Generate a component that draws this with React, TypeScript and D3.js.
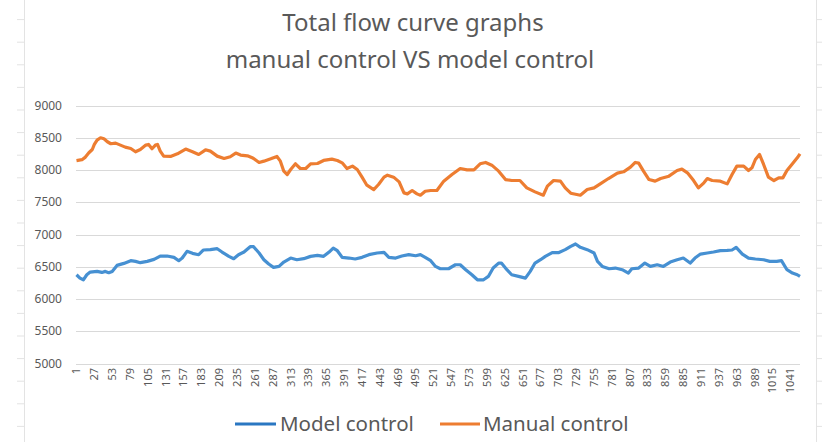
import * as d3 from "d3";
import React from "react";

// y ticks
const yTicks = [5000, 5500, 6000, 6500, 7000, 7500, 8000, 8500, 9000];

// x tick labels (every 26th category)
const xTicks = [
  1, 27, 53, 79, 105, 131, 157, 183, 209, 235, 261, 287, 313, 339, 365, 391, 417, 443, 469, 495,
  521, 547, 573, 599, 625, 651, 677, 703, 729, 755, 781, 807, 833, 859, 885, 911, 937, 963, 989,
  1015, 1041,
];

const totalPoints = 1055;

const manualAt = [
  1, 9, 14, 19, 24, 27, 31, 36, 41, 46, 51, 58, 65, 72, 80, 87, 94, 102, 106, 111, 116, 119, 123,
  128, 138, 148, 160, 170, 179, 189, 196, 206, 216, 225, 233, 240, 250, 257, 259, 267, 274, 284,
  293, 298, 303, 308, 313, 320, 327, 335, 342, 352, 361, 373, 381, 388, 395, 403, 410, 417, 424,
  434, 441, 449, 454, 463, 471, 478, 483, 490, 497, 502, 509, 517, 526, 536, 548, 560, 570, 580,
  589, 597, 606, 616, 626, 635, 647, 657, 669, 681, 687, 696, 706, 713, 721, 735, 745, 755, 764,
  776, 789, 798, 808, 815, 820, 827, 835, 844, 852, 864, 876, 883, 891, 900, 907, 915, 920, 927,
  939, 949, 956, 963, 973, 980, 985, 990, 996, 1002, 1009, 1017, 1024, 1030, 1036, 1044, 1051, 1055,
];
const manualFlow = [
  8145, 8160, 8200, 8267, 8318, 8396, 8464, 8500, 8484, 8438, 8407, 8417, 8386, 8355, 8334, 8282,
  8318, 8386, 8396, 8329, 8386, 8396, 8293, 8215, 8210, 8251, 8324, 8282, 8241, 8313, 8293, 8215,
  8179, 8205, 8262, 8231, 8220, 8189, 8179, 8117, 8137, 8174, 8210, 8137, 7982, 7930, 8008, 8096,
  8023, 8023, 8096, 8101, 8148, 8168, 8148, 8111, 8023, 8060, 8008, 7889, 7764, 7697, 7775, 7889,
  7920, 7889, 7816, 7645, 7630, 7682, 7630, 7609, 7671, 7682, 7682, 7827, 7930, 8023, 8003, 8003,
  8096, 8117, 8075, 7982, 7852, 7837, 7837, 7723, 7661, 7609, 7749, 7837, 7827, 7723, 7640, 7609,
  7697, 7723, 7785, 7868, 7951, 7972, 8044, 8117, 8106, 7982, 7852, 7827, 7868, 7904, 7992, 8013,
  7956, 7837, 7723, 7801, 7868, 7837, 7827, 7785, 7930, 8060, 8060, 7992, 8034, 8163, 8241, 8086,
  7889, 7837, 7878, 7878, 7992, 8096, 8189, 8251,
];

// Model control
const modelAt = [
  1, 6, 11, 16, 21, 31, 38, 43, 48, 53, 60, 70, 80, 87, 94, 104, 114, 123, 133, 143, 150, 155, 162,
  170, 179, 186, 196, 206, 213, 223, 230, 237, 245, 254, 259, 267, 274, 281, 288, 296, 303, 313,
  322, 332, 342, 352, 361, 369, 375, 381, 388, 398, 407, 417, 427, 439, 449, 456, 466, 475, 485,
  495, 502, 509, 517, 524, 531, 543, 553, 560, 568, 577, 585, 594, 601, 608, 616, 620, 628, 635,
  645, 655, 662, 669, 677, 684, 694, 703, 713, 721, 728, 735, 745, 755, 760, 767, 777, 786, 796,
  805, 810, 820, 829, 837, 847, 856, 866, 876, 885, 895, 902, 910, 920, 929, 939, 949, 956, 962,
  971, 980, 990, 1002, 1011, 1021, 1028, 1036, 1044, 1051, 1055,
];
const modelFlow = [
  6376, 6324, 6298, 6376, 6418, 6428, 6412, 6428, 6407, 6428, 6521, 6552, 6594, 6583, 6563, 6583,
  6614, 6666, 6666, 6646, 6594, 6635, 6739, 6708, 6687, 6760, 6765, 6780, 6728, 6661, 6625, 6687,
  6728, 6811, 6811, 6713, 6609, 6542, 6490, 6505, 6573, 6635, 6609, 6625, 6661, 6677, 6661, 6728,
  6790, 6749, 6646, 6635, 6620, 6646, 6687, 6713, 6723, 6646, 6635, 6666, 6687, 6671, 6687, 6646,
  6594, 6505, 6469, 6469, 6531, 6531, 6454, 6376, 6298, 6298, 6350, 6480, 6557, 6557, 6454, 6376,
  6350, 6324, 6428, 6557, 6609, 6661, 6718, 6718, 6765, 6816, 6853, 6801, 6765, 6713, 6583, 6505,
  6469, 6480, 6454, 6402, 6469, 6480, 6557, 6505, 6531, 6505, 6573, 6609, 6635, 6557, 6635, 6697,
  6713, 6728, 6749, 6754, 6760, 6801, 6697, 6635, 6620, 6609, 6583, 6583, 6594, 6454, 6402, 6376,
  6350,
];

const W = 827;
const H = 442;
const plot = { left: 76, right: 800, top: 105.5, bottom: 363.5 };

const textColor = "#595959";
const gridColor = "#D9D9D9";
const blue = "#4690D2";
const orange = "#ED7D31";
const font = "'Noto Sans', 'Open Sans', sans-serif";

export default function App() {
  const x = d3.scaleLinear().domain([1, totalPoints]).range([plot.left + 0.5, plot.right]);
  const y = d3.scaleLinear().domain([5000, 9000]).range([plot.bottom, plot.top]);

  const line = d3
    .line<[number, number]>()
    .x((d) => x(d[0]))
    .y((d) => y(d[1]));

  const manualPath = line(manualAt.map((c, i) => [c, manualFlow[i]]));
  const modelPath = line(modelAt.map((c, i) => [c, modelFlow[i]]));

  // sheet row lines peeking outside the chart
  const rowLines = d3.range(-3, 440, 22.6);

  return (
    <svg
      width={W}
      height={H}
      style={{ position: "absolute", left: 0, top: 0, background: "#fff" }}
      fontFamily={font}
    >
      {rowLines.map((ry, i) => (
        <g key={i} stroke="#E3E3E3" strokeWidth={1}>
          <line x1={17} x2={24} y1={ry} y2={ry} />
          <line x1={816} x2={822} y1={ry} y2={ry} />
        </g>
      ))}
      <line x1={24.5} x2={24.5} y1={0} y2={H} stroke="#E3E3E3" />
      <line x1={816.5} x2={816.5} y1={0} y2={H} stroke="#E3E3E3" />
      <rect x={25} y={0} width={791} height={H} fill="#fff" />

      <text x={413} y={31} textAnchor="middle" fontSize={24} fill={textColor}>
        Total flow curve graphs
      </text>
      <text x={410} y={68} textAnchor="middle" fontSize={24} fill={textColor}>
        manual control VS model control
      </text>

      {yTicks.map((t) => (
        <g key={t}>
          <line
            x1={plot.left}
            x2={plot.right}
            y1={Math.round(y(t)) + 0.5}
            y2={Math.round(y(t)) + 0.5}
            stroke={gridColor}
            strokeWidth={1}
          />
          <text
            x={62}
            y={y(t)}
            dy="0.35em"
            textAnchor="end"
            fontSize={12}
            fill={textColor}
          >
            {t}
          </text>
        </g>
      ))}

      {xTicks.map((t) => (
        <text
          key={t}
          transform={`translate(${x(t)},368) rotate(-90)`}
          dy="0.35em"
          textAnchor="end"
          fontSize={11}
          fill={textColor}
        >
          {t}
        </text>
      ))}

      <path d={modelPath ?? ""} fill="none" stroke={blue} strokeWidth={3.2} strokeLinejoin="round" />
      <path d={manualPath ?? ""} fill="none" stroke={orange} strokeWidth={3.2} strokeLinejoin="round" />

      <g>
        <line x1={235} x2={276} y1={424} y2={424} stroke="#2A77C2" strokeWidth={3} />
        <text x={280} y={431} fontSize={20.5} fill={textColor}>
          Model control
        </text>
        <line x1={440} x2={480} y1={424} y2={424} stroke={orange} strokeWidth={3} />
        <text x={483} y={431} fontSize={20.5} fill={textColor}>
          Manual control
        </text>
      </g>
    </svg>
  );
}
